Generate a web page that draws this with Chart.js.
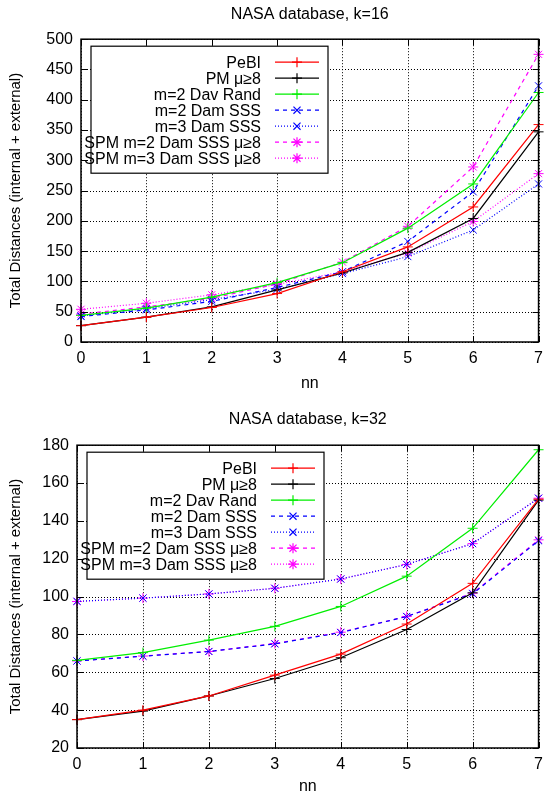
<!DOCTYPE html>
<html>
<head>
<meta charset="utf-8">
<script src="https://cdn.jsdelivr.net/npm/chart.js@4.4.0/dist/chart.umd.min.js"></script>
<style>
  html, body { margin: 0; padding: 0; background: #fff; }
  canvas { display: block; }
</style>
</head>
<body>
<canvas id="k16" width="550" height="400"></canvas>
<canvas id="k32" width="550" height="397"></canvas>
<script>
// x categories
const nn = ['0', '1', '2', '3', '4', '5', '6', '7'];

const seriesNames = [
    'PeBI', 'PM μ≥8', 'm=2 Dav Rand', 'm=2 Dam SSS', 'm=3 Dam SSS',
    'SPM m=2 Dam SSS μ≥8', 'SPM m=3 Dam SSS μ≥8'
];

// k=16 values
const k16PeBI = [27, 41, 57, 80, 116, 157, 223, 359];
const k16PM = [27, 41, 58, 86, 114, 148, 204, 347];
const k16DavRand = [44, 56, 74, 98, 131, 188, 261, 412];
const k16DamM2 = [42, 53, 67, 90, 116, 166, 248, 423];
const k16DamM3 = [43, 55, 70, 87, 113, 141, 185, 261];
const k16SpmM2 = [46, 58, 72, 96, 132, 191, 289, 475];
const k16SpmM3 = [54, 64, 78, 95, 116, 147, 199, 278];

// k=32 values
const k32PeBI = [35, 40, 47.5, 58.5, 69.6, 85.5, 107, 151.5];
const k32PM = [35, 39.5, 47.5, 56.7, 67.7, 82.6, 102, 151];
const k32DavRand = [66.3, 70.4, 77, 84.3, 94.8, 110.8, 136.1, 177.6];
const k32DamM2 = [66, 68.5, 71, 75, 81, 89.5, 101.5, 129.5];
const k32DamM3 = [97.5, 99.2, 101.4, 104.4, 109.3, 117, 128, 152];
const k32SpmM2 = [66, 68.6, 71, 75.2, 81.2, 89.5, 101.8, 130];
const k32SpmM3 = [97.4, 99.2, 101.4, 104.4, 109.3, 117, 128, 152];

// y ticks
const k16YTicks = { min: 0, max: 500, step: 50 };
const k32YTicks = { min: 20, max: 180, step: 20 };

// gnuplot-ish line styles, one per series
const styles = [
    { color: '#ff0000', dash: [], point: 'cross', r: 5 },
    { color: '#000000', dash: [], point: 'cross', r: 5 },
    { color: '#00ee00', dash: [], point: 'cross', r: 5 },
    { color: '#0000ff', dash: [4, 4], point: 'crossRot', r: 5 },
    { color: '#0000ff', dash: [1, 2], point: 'crossRot', r: 5 },
    { color: '#ff00ff', dash: [4, 4], point: 'star', r: 5 },
    { color: '#ff00ff', dash: [1, 2], point: 'star', r: 5 }
];

const FONT = '"Liberation Sans", Arial, Helvetica, sans-serif';
const FS = 16;

// dotted grid, frame and inward ticks on all four sides
const gnuFrame = {
    id: 'gnuFrame',
    beforeDatasetsDraw(chart) {
        const { ctx, chartArea: a, scales } = chart;
        ctx.save();
        ctx.strokeStyle = '#000';
        ctx.lineWidth = 1;
        ctx.setLineDash([1, 2]);
        ctx.beginPath();
        scales.x.ticks.forEach((t, i) => {
            const px = Math.round(scales.x.getPixelForTick(i)) + 0.5;
            ctx.moveTo(px, a.top); ctx.lineTo(px, a.bottom);
        });
        scales.y.ticks.forEach((t, i) => {
            const py = Math.round(scales.y.getPixelForTick(i)) + 0.5;
            ctx.moveTo(a.left, py); ctx.lineTo(a.right, py);
        });
        ctx.stroke();
        ctx.restore();
    },
    afterDatasetsDraw(chart) {
        const { ctx, chartArea: a, scales } = chart;
        ctx.save();
        ctx.strokeStyle = '#000';
        ctx.lineWidth = 1;
        ctx.setLineDash([]);
        ctx.beginPath();
        scales.x.ticks.forEach((t, i) => {
            const px = Math.round(scales.x.getPixelForTick(i)) + 0.5;
            ctx.moveTo(px, a.bottom); ctx.lineTo(px, a.bottom - 6);
            ctx.moveTo(px, a.top); ctx.lineTo(px, a.top + 6);
        });
        scales.y.ticks.forEach((t, i) => {
            const py = Math.round(scales.y.getPixelForTick(i)) + 0.5;
            ctx.moveTo(a.left, py); ctx.lineTo(a.left + 6, py);
            ctx.moveTo(a.right, py); ctx.lineTo(a.right - 6, py);
        });
        ctx.stroke();
        ctx.lineWidth = 1.5;
        ctx.strokeRect(a.left, a.top, a.right - a.left, a.bottom - a.top);
        ctx.restore();
    }
};

// boxed key in the upper left, text right-aligned, sample on the right
const gnuKey = {
    id: 'gnuKey',
    afterDatasetsDraw(chart, args, opts) {
        const { ctx, chartArea: a } = chart;
        const x0 = a.left + opts.dx, y0 = a.top + opts.dy;
        ctx.save();
        ctx.setLineDash([]);
        ctx.fillStyle = '#fff';
        ctx.fillRect(x0, y0, opts.w, opts.h);
        ctx.strokeStyle = '#000';
        ctx.lineWidth = 1.2;
        ctx.strokeRect(x0, y0, opts.w, opts.h);
        ctx.font = FS + 'px ' + FONT;
        ctx.textAlign = 'right';
        ctx.textBaseline = 'middle';
        chart.data.datasets.forEach((ds, i) => {
            const y = y0 + opts.row0 + i * opts.rowH;
            ctx.fillStyle = '#000';
            ctx.fillText(ds.label, x0 + opts.textRight, y + 1);
            ctx.strokeStyle = ds.borderColor;
            ctx.lineWidth = ds.borderWidth;
            ctx.setLineDash(ds.borderDash);
            ctx.beginPath();
            ctx.moveTo(x0 + opts.s1, y);
            ctx.lineTo(x0 + opts.s2, y);
            ctx.stroke();
            ctx.setLineDash([]);
            ctx.fillStyle = ds.borderColor;
            Chart.helpers.drawPoint(ctx, { pointStyle: ds.pointStyle, radius: ds.pointRadius, borderWidth: 1, rotation: 0 },
                x0 + (opts.s1 + opts.s2) / 2, y);
        });
        ctx.restore();
    }
};

function makeChart(id, title, values, yTicks, lay) {
    const datasets = values.map((vals, i) => ({
        label: seriesNames[i],
        data: vals,
        borderColor: styles[i].color,
        backgroundColor: styles[i].color,
        borderWidth: 1.2,
        borderDash: styles[i].dash,
        pointStyle: styles[i].point,
        pointRadius: styles[i].r,
        pointBorderWidth: 1,
        pointBorderColor: styles[i].color,
        tension: 0,
        clip: false,
        fill: false
    }));
    return new Chart(document.getElementById(id), {
        type: 'line',
        data: { labels: nn, datasets },
        options: {
            responsive: false,
            animation: false,
            devicePixelRatio: 1,
            layout: { padding: { left: 0, right: lay.right, top: 0, bottom: 0 } },
            plugins: {
                legend: { display: false },
                tooltip: { enabled: false },
                title: {
                    display: true,
                    text: title,
                    fullSize: false,
                    color: '#000',
                    font: { family: FONT, size: FS, weight: 'normal' },
                    padding: { top: lay.titleTop, bottom: lay.titleBottom }
                },
                gnuKey: { dx: 10, dy: 7, w: 237, h: 127, row0: 16, rowH: 16, textRight: 170, s1: 184, s2: 228 }
            },
            scales: {
                x: {
                    type: 'category',
                    offset: false,
                    grid: { display: false, drawTicks: false },
                    border: { display: false },
                    ticks: { color: '#000', font: { family: FONT, size: FS }, padding: 7, maxRotation: 0 },
                    title: { display: true, text: 'nn', color: '#000', font: { family: FONT, size: FS }, padding: { top: 0, bottom: lay.nnPad } },
                    afterFit: s => { s.height = lay.xh; }
                },
                y: {
                    min: yTicks.min,
                    max: yTicks.max,
                    grid: { display: false, drawTicks: false },
                    border: { display: false },
                    ticks: { stepSize: yTicks.step, color: '#000', font: { family: FONT, size: FS }, padding: 8 },
                    title: { display: true, text: 'Total Distances (internal + external)', color: '#000', font: { family: FONT, size: 15 }, padding: { top: 7, bottom: 0 } },
                    afterFit: s => { s.width = lay.yw; }
                }
            }
        },
        plugins: [gnuFrame, gnuKey]
    });
}

makeChart('k16', 'NASA database, k=16',
    [k16PeBI, k16PM, k16DavRand, k16DamM2, k16DamM3, k16SpmM2, k16SpmM3],
    k16YTicks, { right: 5, titleTop: 5, titleBottom: 15, xh: 58, yw: 81, nnPad: 7 });

makeChart('k32', 'NASA database, k=32',
    [k32PeBI, k32PM, k32DavRand, k32DamM2, k32DamM3, k32SpmM2, k32SpmM3],
    k32YTicks, { right: 8, titleTop: 10, titleBottom: 16, xh: 49, yw: 77, nnPad: 1 });
</script>
</body>
</html>
